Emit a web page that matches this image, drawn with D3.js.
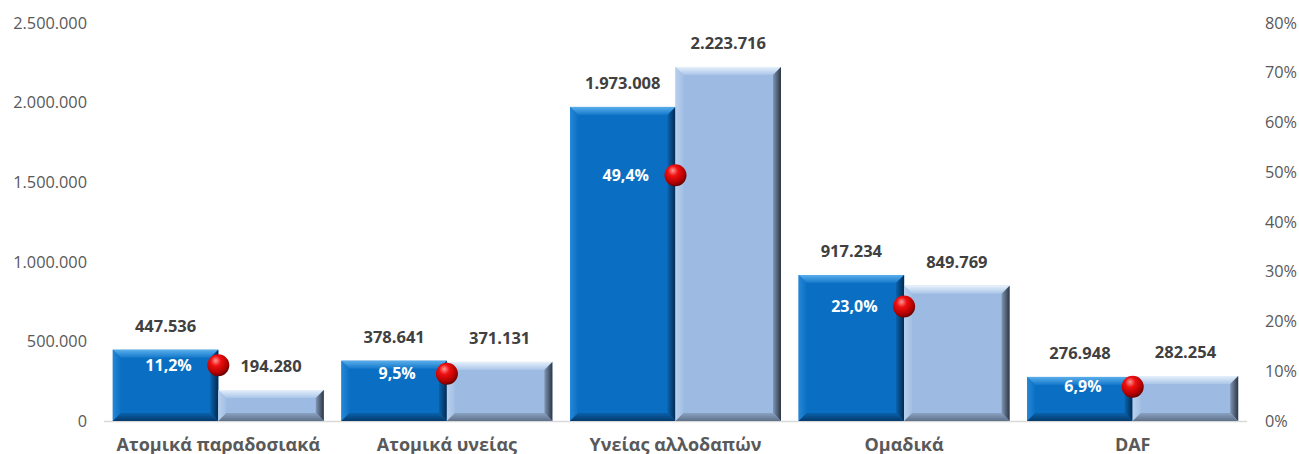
<!DOCTYPE html>
<meta charset="utf-8">
<script src="https://d3js.org/d3.v7.min.js"></script>
<body>
<div id="chart"></div>
<style>
 body { margin: 0; background: #ffffff; }
 text { font-family: 'Open Sans', sans-serif; }
</style>
<script>

// data
var categories = ["Ατομικά παραδοσιακά", "Ατομικά υνείας", "Υνείας αλλοδαπών", "Ομαδικά", "DAF"];
var seriesA = [447536, 378641, 1973008, 917234, 276948];   // dark blue bars
var seriesB = [194280, 371131, 2223716, 849769, 282254];   // light blue bars
var shares = [0.112, 0.095, 0.494, 0.230, 0.069];          // red markers (right axis)
var leftTicks = [0, 500000, 1000000, 1500000, 2000000, 2500000];
var rightTicks = [0, 0.1, 0.2, 0.3, 0.4, 0.5, 0.6, 0.7, 0.8];

var W = 1299, H = 454;

var gr = d3.formatLocale({decimal: ",", thousands: ".", grouping: [3], currency: ["", "€"]});
var fmtNum = gr.format(",.0f");
var fmtPct = gr.format(".1%");
var fmtAxPct = gr.format(".0%");

var svg = d3.select("#chart").append("svg")
    .attr("width", W)
    .attr("height", H);

var x = d3.scaleBand()
    .domain(categories)
    .range([104, 1247])
    .paddingInner(0.077)
    .paddingOuter(0.0385);

var xs = d3.scaleBand()
    .domain(["A", "B"])
    .range([0, x.bandwidth()]);

var y = d3.scaleLinear().domain([0, 2500000]).range([421, 23]);
var y2 = d3.scaleLinear().domain([0, 0.8]).range([421, 23]);

// gradients for bevelled bars and the red balls
var defs = svg.append("defs");
function lin(id, x2, y2v, stops) {
  var g = defs.append("linearGradient").attr("id", id)
    .attr("x1", 0).attr("y1", 0).attr("x2", x2).attr("y2", y2v);
  stops.forEach(function(s) { g.append("stop").attr("offset", s[0]).attr("stop-color", s[1]); });
}
var pal = {
  A: {base: "#0A6FC2", top: ["#5AAEEB", "#1479CB"], left: ["#2786D6", "#0B71C4"], right: ["#0A62AC", "#03294F"], bottom: ["#0961AB", "#053A6C"]},
  B: {base: "#9DBBE2", top: ["#E6F0FB", "#A9C5E8"], left: ["#B9D0EE", "#A2BFE4"], right: ["#8096B4", "#2C3644"], bottom: ["#8AA2C2", "#5F7088"]}
};
["A", "B"].forEach(function(k) {
  lin("top" + k, 0, 1, [[0, pal[k].top[0]], [1, pal[k].top[1]]]);
  lin("left" + k, 1, 0, [[0, pal[k].left[0]], [1, pal[k].left[1]]]);
  lin("right" + k, 1, 0, [[0, pal[k].right[0]], [1, pal[k].right[1]]]);
  lin("bottom" + k, 0, 1, [[0, pal[k].bottom[0]], [1, pal[k].bottom[1]]]);
});
var rg = defs.append("radialGradient").attr("id", "ball")
  .attr("cx", "40%").attr("cy", "35%").attr("r", "65%").attr("fx", "38%").attr("fy", "28%");
rg.append("stop").attr("offset", 0).attr("stop-color", "#ff9a9a");
rg.append("stop").attr("offset", 0.35).attr("stop-color", "#f01010");
rg.append("stop").attr("offset", 0.8).attr("stop-color", "#b00000");
rg.append("stop").attr("offset", 1).attr("stop-color", "#6a0000");

// left axis labels
svg.append("g").selectAll("text")
  .data(leftTicks).enter().append("text")
    .attr("x", 87)
    .attr("y", function(d) { return y(d); })
    .attr("dy", "0.35em")
    .attr("text-anchor", "end")
    .style("font-size", "16.3px")
    .style("fill", "#595959")
    .text(function(d) { return fmtNum(d); });

// right axis labels
svg.append("g").selectAll("text")
  .data(rightTicks).enter().append("text")
    .attr("x", 1265)
    .attr("y", function(d) { return y2(d); })
    .attr("dy", "0.35em")
    .attr("text-anchor", "start")
    .style("font-size", "16.3px")
    .style("fill", "#595959")
    .text(function(d) { return fmtAxPct(d); });

// baseline
svg.append("line")
  .attr("x1", 104).attr("x2", 1247)
  .attr("y1", y(0) + 0.5).attr("y2", y(0) + 0.5)
  .attr("stroke", "#d9d9d9").attr("stroke-width", 1.5);

// bars
var bars = [];
categories.forEach(function(c, i) {
  bars.push({cat: c, key: "A", v: seriesA[i]});
  bars.push({cat: c, key: "B", v: seriesB[i]});
});

function bevel(d) {
  var bx = x(d.cat) + xs(d.key), bw = xs.bandwidth();
  var by = y(d.v), bh = y(0) - by;
  var b = Math.min(8, bh / 3);
  var g = svg.append("g");
  g.append("rect").attr("x", bx).attr("y", by).attr("width", bw).attr("height", bh).attr("fill", pal[d.key].base);
  var pts = function(a) { return a.map(function(p) { return p.join(","); }).join(" "); };
  g.append("polygon").attr("fill", "url(#top" + d.key + ")")
    .attr("points", pts([[bx, by], [bx + bw, by], [bx + bw - b, by + b], [bx + b, by + b]]));
  g.append("polygon").attr("fill", "url(#left" + d.key + ")")
    .attr("points", pts([[bx, by], [bx + b, by + b], [bx + b, by + bh - b], [bx, by + bh]]));
  g.append("polygon").attr("fill", "url(#right" + d.key + ")")
    .attr("points", pts([[bx + bw, by], [bx + bw, by + bh], [bx + bw - b, by + bh - b], [bx + bw - b, by + b]]));
  g.append("polygon").attr("fill", "url(#bottom" + d.key + ")")
    .attr("points", pts([[bx, by + bh], [bx + b, by + bh - b], [bx + bw - b, by + bh - b], [bx + bw, by + bh]]));
}
bars.forEach(bevel);

// value labels above bars
svg.append("g").selectAll("text")
  .data(bars).enter().append("text")
    .attr("x", function(d) { return x(d.cat) + xs(d.key) + xs.bandwidth() / 2; })
    .attr("y", function(d) { return y(d.v) - 18; })
    .attr("text-anchor", "middle")
    .style("font-size", "16.5px")
    .style("font-weight", "bold")
    .style("fill", "#404040")
    .text(function(d) { return fmtNum(d.v); });

// share labels inside dark bars
svg.append("g").selectAll("text")
  .data(categories).enter().append("text")
    .attr("x", function(c) { return x(c) + xs("A") + xs.bandwidth() / 2 + 3; })
    .attr("y", function(c, i) { return y2(shares[i]); })
    .attr("dy", "0.35em")
    .attr("text-anchor", "middle")
    .style("font-size", "16px")
    .style("font-weight", "bold")
    .style("fill", "#ffffff")
    .text(function(c, i) { return fmtPct(shares[i]); });

// red markers
svg.append("g").selectAll("circle")
  .data(categories).enter().append("circle")
    .attr("cx", function(c) { return x(c) + x.bandwidth() / 2; })
    .attr("cy", function(c, i) { return y2(shares[i]); })
    .attr("r", 11)
    .attr("fill", "url(#ball)");

// category labels
svg.append("g").selectAll("text")
  .data(categories).enter().append("text")
    .attr("x", function(c) { return x(c) + x.bandwidth() / 2; })
    .attr("y", 451)
    .attr("text-anchor", "middle")
    .style("font-size", "18px")
    .style("font-weight", "bold")
    .style("fill", "#595959")
    .text(function(c) { return c; });

</script>
</body>
